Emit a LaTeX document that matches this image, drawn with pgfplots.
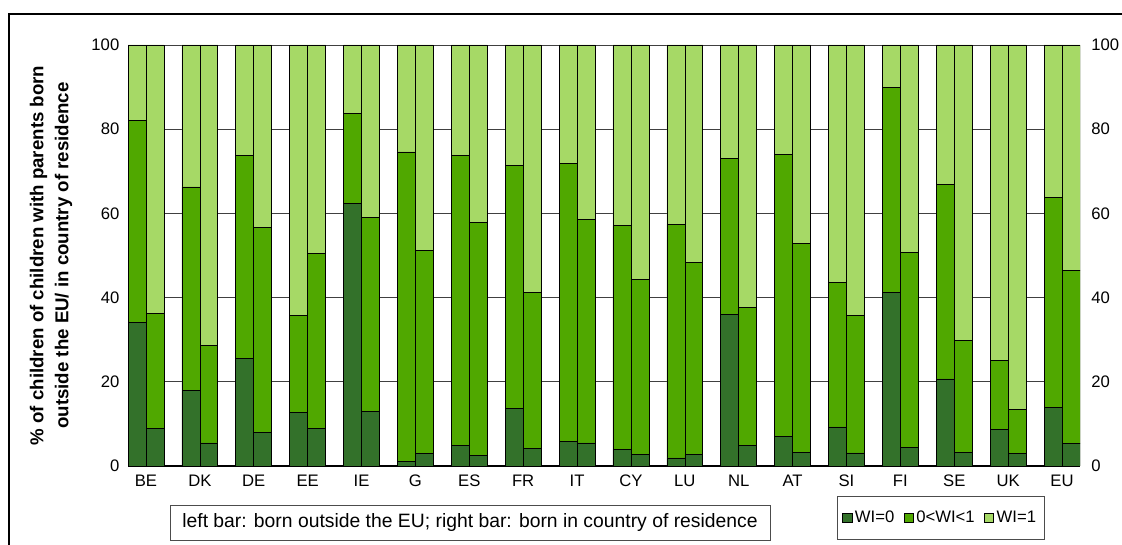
\documentclass[border=0pt]{standalone}
\usepackage{fontspec}
\setmainfont{Liberation Sans}
\usepackage{pgfplots}
\pgfplotsset{compat=1.18}
\usepackage{pgfplotstable}

\definecolor{wizero}{HTML}{33712A}
\definecolor{wimid}{HTML}{50A800}
\definecolor{wione}{HTML}{A6D966}

% g = country index, s = -1 left bar (born outside EU), +1 right bar (born in country)
% a = WI=0, b = 0<WI<1, c = WI=1
\pgfplotstableread{
g  s   a     b     c
0  -1  34.2  47.8  18.0
0   1   8.9  27.3  63.8
1  -1  17.9  48.4  33.7
1   1   5.5  23.2  71.3
2  -1  25.6  48.2  26.2
2   1   7.9  48.8  43.3
3  -1  12.8  22.9  64.3
3   1   9.0  41.5  49.5
4  -1  62.3  21.5  16.2
4   1  13.0  46.0  41.0
5  -1   1.0  73.6  25.4
5   1   3.0  48.3  48.7
6  -1   4.9  68.8  26.3
6   1   2.6  55.2  42.2
7  -1  13.7  57.6  28.7
7   1   4.2  37.0  58.8
8  -1   5.8  66.0  28.2
8   1   5.5  53.1  41.4
9  -1   4.0  53.1  42.9
9   1   2.8  41.6  55.6
10 -1   1.9  55.5  42.6
10  1   2.7  45.6  51.7
11 -1  36.1  37.0  26.9
11  1   4.9  32.7  62.4
12 -1   7.1  67.0  25.9
12  1   3.3  49.6  47.1
13 -1   9.3  34.3  56.4
13  1   3.1  32.6  64.3
14 -1  41.3  48.7  10.0
14  1   4.5  46.2  49.3
15 -1  20.7  46.2  33.1
15  1   3.2  26.7  70.1
16 -1   8.7  16.3  75.0
16  1   3.0  10.5  86.5
17 -1  14.0  49.7  36.3
17  1   5.3  41.1  53.6
}\wi

\begin{document}
\begin{tikzpicture}
\path[use as bounding box] (0pt,0pt) rectangle (841.5pt,408.75pt);
\draw[line width=1.2pt] (6.75pt,0pt) -- (6.75pt,398.25pt) -- (841.5pt,398.25pt);

\begin{axis}[
  at={(96pt,59.25pt)}, anchor=south west,
  scale only axis, width=714pt, height=315.75pt,
  xmin=-0.3333, xmax=17.3333,
  ymin=0, ymax=100, ytick={0,20,...,100},
  ybar stacked, bar width=0.3333,
  xtick={0,...,17},
  xticklabels={BE,DK,DE,EE,IE,G,ES,FR,IT,CY,LU,NL,AT,SI,FI,SE,UK,EU},
  major tick length=0pt,
  axis x line*=bottom, axis y line*=left,
  x axis line style={line width=1.5pt, -},
  y axis line style={draw=none},
  ymajorgrids, grid style={black!75, line width=0.6pt},
  ticklabel style={font=\fontsize{12.5}{14}\selectfont},
  yticklabel style={xshift=-3pt},
  xticklabel style={yshift=-3pt},
  /pgf/number format/assume math mode=true,
  ylabel={\% of children of children with parents born\\outside the EU/ in country of residence},
  ylabel style={font=\bfseries\fontsize{14}{18.75}\selectfont, align=center,
    at={(axis description cs:-0.0536,0.5)}, anchor=south},
  legend columns=3,
  legend style={at={(axis description cs:0.8535,-0.1235)}, anchor=center,
    draw=black!70, line width=0.6pt, font=\fontsize{12.5}{14}\selectfont,
    inner xsep=4pt, inner ysep=9pt,
    /tikz/every even column/.append style={column sep=5pt}},
  legend image code/.code={\draw[#1, draw=black, line width=0.5pt] (0pt,-3.5pt) rectangle (7pt,3.5pt);},
]
\addplot[fill=wizero, draw=black, line width=0.5pt] table[x expr=\thisrow{g}+\thisrow{s}/6, y=a] {\wi};
\addlegendentry{WI=0}
\addplot[fill=wimid, draw=black, line width=0.5pt] table[x expr=\thisrow{g}+\thisrow{s}/6, y=b] {\wi};
\addlegendentry{0<WI<1}
\addplot[fill=wione, draw=black, line width=0.5pt] table[x expr=\thisrow{g}+\thisrow{s}/6, y=c] {\wi};
\addlegendentry{WI=1}
\end{axis}

\begin{axis}[
  at={(96pt,59.25pt)}, anchor=south west,
  scale only axis, width=714pt, height=315.75pt,
  xmin=-0.3333, xmax=17.3333,
  ymin=0, ymax=100, ytick={0,20,...,100},
  hide x axis, axis y line*=right,
  y axis line style={draw=none},
  major tick length=0pt,
  ticklabel style={font=\fontsize{12.5}{14}\selectfont},
  yticklabel style={xshift=5pt},
  /pgf/number format/assume math mode=true,
]
\addplot[draw=none] coordinates {(0,0) (17,100)};
\end{axis}

\node[draw=black!70, line width=0.6pt, minimum width=450pt, minimum height=26pt,
  inner sep=0pt, font=\fontsize{14.5}{16}\selectfont] at (352.5pt,16.5pt)
  {left bar: born outside the EU; right bar: born in country of residence};
\end{tikzpicture}
\end{document}
